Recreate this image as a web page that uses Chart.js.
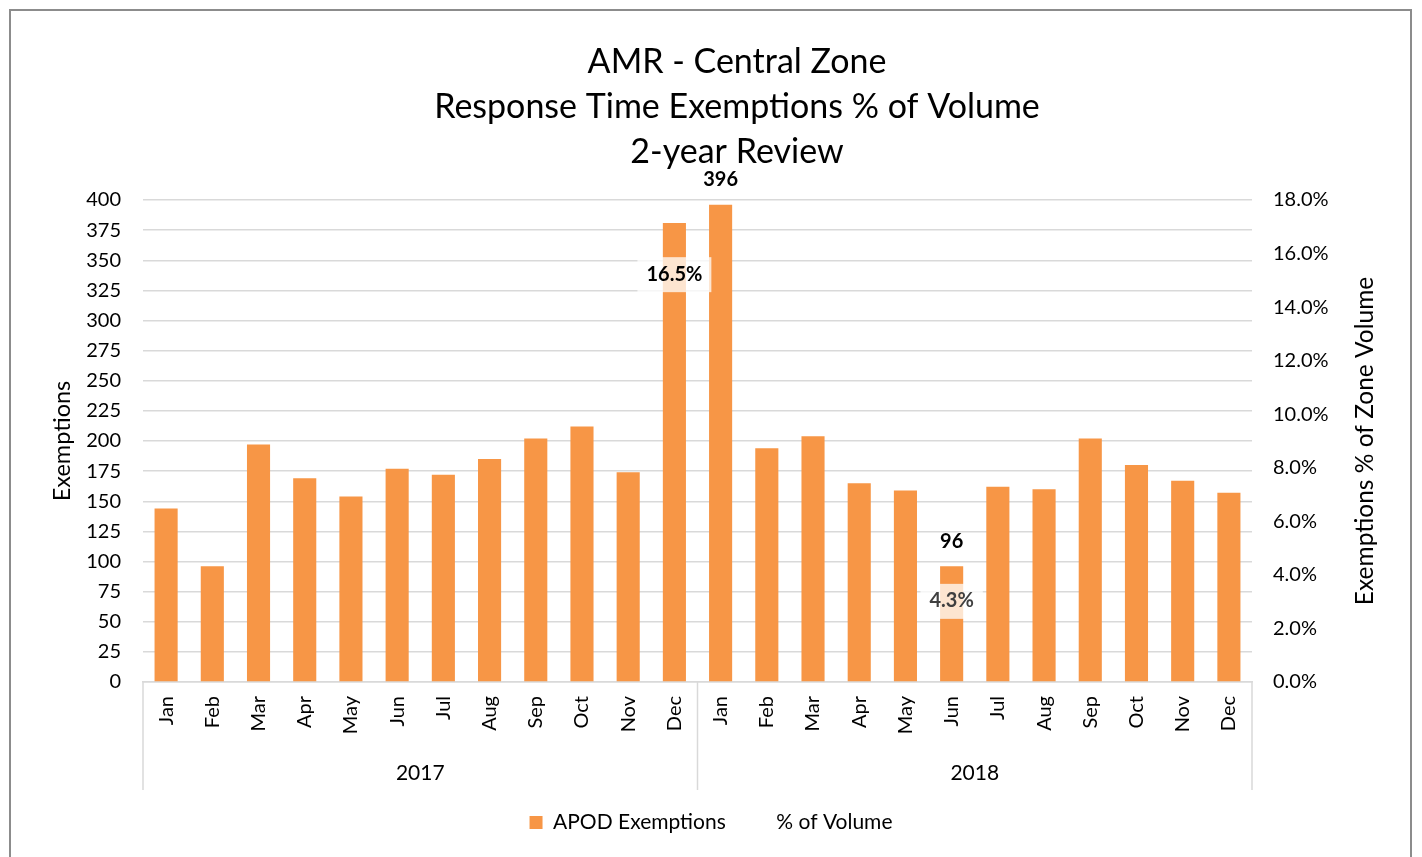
<!DOCTYPE html>
<html>
<head>
<meta charset="utf-8">
<title>AMR - Central Zone</title>
<script src="https://cdn.jsdelivr.net/npm/chart.js@4"></script>
<style>
  html, body { margin: 0; padding: 0; background: #fff; }
  #wrap { position: absolute; left: 0; top: 0; width: 1422px; height: 857px; }
</style>
</head>
<body>
<div id="wrap"><canvas id="chart"></canvas></div>
<script>
const titleLines = ["AMR - Central Zone", "Response Time Exemptions % of Volume", "2-year Review"];
const months = ["Jan", "Feb", "Mar", "Apr", "May", "Jun", "Jul", "Aug", "Sep", "Oct", "Nov", "Dec",
                "Jan", "Feb", "Mar", "Apr", "May", "Jun", "Jul", "Aug", "Sep", "Oct", "Nov", "Dec"];
const years = ["2017", "2018"];
const exemptions = [144, 96, 197, 169, 154, 177, 172, 185, 202, 212, 174, 381,
                    396, 194, 204, 165, 159, 96, 162, 160, 202, 180, 167, 157];
// % of volume line has no visible stroke; only the high / low labels show
const pctVolume = [6.9, 4.6, 9.0, 7.8, 7.1, 8.0, 7.6, 8.2, 8.9, 9.3, 7.9, 16.5,
                   16.2, 8.6, 8.8, 7.4, 7.0, 4.3, 7.1, 7.0, 8.7, 7.9, 7.3, 6.9];
// which points carry a data label in the original
const barLabelIdx = [12, 17];
const pctLabelIdx = [11, 17];

const FONT = "Lato, 'Open Sans', sans-serif";
const ORANGE = "#F79646";
const GRID = "#D9D9D9";

const extras = {
    id: "extras",
    beforeDraw(chart) {
        const ctx = chart.ctx;
        ctx.save();
        ctx.strokeStyle = "#8c8c8c";
        ctx.lineWidth = 2;
        ctx.strokeRect(10, 10, 1401, 900);

        // title, centred the way Excel placed it
        ctx.fillStyle = "#000";
        ctx.font = "34px " + FONT;
        ctx.textAlign = "center";
        ctx.textBaseline = "middle";
        titleLines.forEach((t, i) => ctx.fillText(t, 737, 62 + i * 45));
        ctx.restore();
    },
    afterDatasetsDraw(chart) {
        const ctx = chart.ctx;
        const bars = chart.getDatasetMeta(0).data;
        const pts = chart.getDatasetMeta(1).data;
        ctx.save();
        ctx.font = "bold 20px " + FONT;
        ctx.textAlign = "center";
        ctx.textBaseline = "middle";

        barLabelIdx.forEach((i) => {
            const b = bars[i];
            ctx.fillStyle = "#000";
            ctx.fillText(String(exemptions[i]), b.x, b.y - 25);
        });

        pctLabelIdx.forEach((i, k) => {
            const p = pts[i];
            const txt = pctVolume[i].toFixed(1) + "%";
            const w = ctx.measureText(txt).width + 18;
            const y = p.y + 34;
            ctx.fillStyle = "rgba(255,255,255,0.75)";
            ctx.fillRect(p.x - w / 2, y - 17, w, 35);
            ctx.fillStyle = k === 0 ? "#000" : "#404040";
            ctx.fillText(txt, p.x, y);
        });
        ctx.restore();
    },
    afterDraw(chart) {
        const ctx = chart.ctx;
        const area = chart.chartArea;
        const x = chart.scales.x;
        const mid = (x.getPixelForValue(11) + x.getPixelForValue(12)) / 2;
        ctx.save();
        ctx.strokeStyle = GRID;
        ctx.lineWidth = 1.5;
        [area.left, mid, area.right].forEach((px) => {
            ctx.beginPath();
            ctx.moveTo(px, area.bottom);
            ctx.lineTo(px, area.bottom + 108);
            ctx.stroke();
        });
        ctx.fillStyle = "#000";
        ctx.font = "21px " + FONT;
        ctx.textAlign = "center";
        ctx.textBaseline = "middle";
        ctx.fillText(years[0], (area.left + mid) / 2, area.bottom + 91);
        ctx.fillText(years[1], (mid + area.right) / 2, area.bottom + 91);

        // right axis title reads bottom-to-top like Excel
        ctx.translate(1365, (area.top + area.bottom) / 2);
        ctx.rotate(-Math.PI / 2);
        ctx.font = "24.5px " + FONT;
        ctx.fillText("Exemptions % of Zone Volume", 0, 0);
        ctx.restore();
    },
};

new Chart(document.getElementById("chart"), {
    type: "bar",
    data: {
        labels: months,
        datasets: [
            {
                label: "APOD Exemptions",
                data: exemptions,
                backgroundColor: ORANGE,
                borderWidth: 0,
                categoryPercentage: 1,
                barPercentage: 0.5,
                yAxisID: "y",
                order: 1,
            },
            {
                type: "line",
                label: "% of Volume",
                data: pctVolume,
                borderColor: "transparent",
                backgroundColor: "transparent",
                showLine: false,
                pointRadius: 0,
                yAxisID: "y1",
                order: 2,
            },
        ],
    },
    options: {
        responsive: true,
        maintainAspectRatio: false,
        animation: false,
        layout: { padding: { left: 10, right: 10, top: 200, bottom: 14 } },
        plugins: {
            title: { display: false },
            legend: {
                position: "bottom",
                labels: {
                    font: { family: FONT, size: 21 },
                    color: "#000",
                    boxWidth: 13,
                    boxHeight: 13,
                    padding: 27,
                },
            },
            tooltip: { enabled: false },
        },
        scales: {
            x: {
                grid: { display: false, drawTicks: false },
                border: { display: true, color: GRID, width: 1.5 },
                ticks: {
                    font: { family: FONT, size: 20 },
                    color: "#000",
                    minRotation: 90,
                    maxRotation: 90,
                    autoSkip: false,
                    padding: 14,
                },
                afterFit(s) { s.height = 103; },
            },
            y: {
                position: "left",
                min: 0,
                max: 400,
                ticks: { stepSize: 25, font: { family: FONT, size: 20 }, color: "#000", padding: 22 },
                grid: { color: GRID, lineWidth: 1.5, drawTicks: false },
                border: { display: false },
                title: {
                    display: true,
                    text: "Exemptions",
                    font: { family: FONT, size: 23.5 },
                    color: "#000",
                    padding: { top: 38, bottom: 0 },
                },
                afterFit(s) { s.width = 133; },
            },
            y1: {
                position: "right",
                min: 0,
                max: 18,
                ticks: {
                    stepSize: 2,
                    font: { family: FONT, size: 20 },
                    color: "#000",
                    padding: 21,
                    callback: (v) => v.toFixed(1) + "%",
                },
                grid: { drawOnChartArea: false, drawTicks: false },
                border: { display: false },
                afterFit(s) { s.width = 160; },
            },
        },
    },
    plugins: [extras],
});
</script>
</body>
</html>
